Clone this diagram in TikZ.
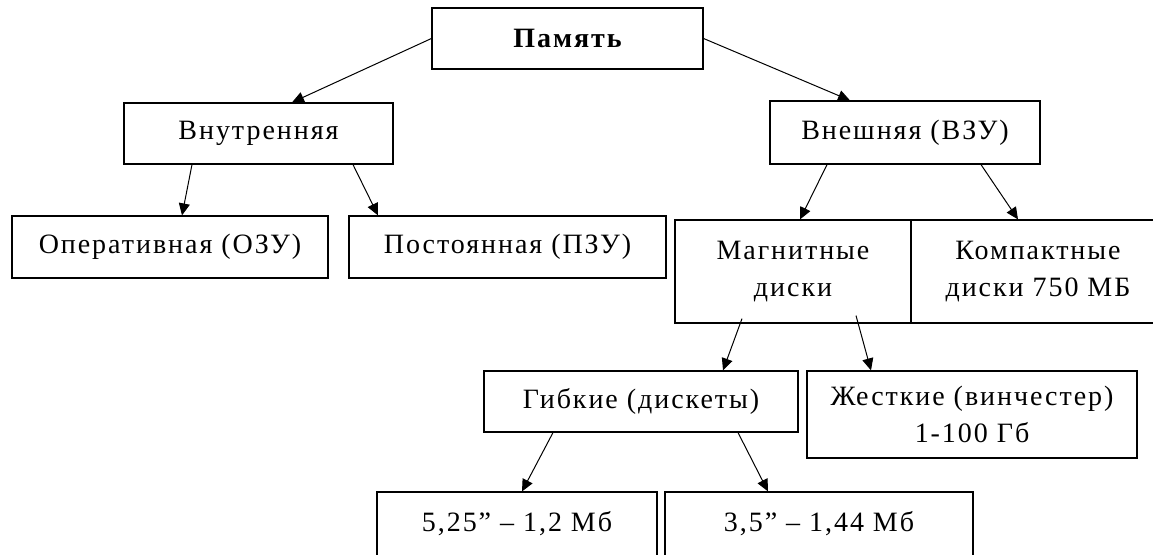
\documentclass[tikz,border=0pt]{standalone}
\usepackage{fontspec}
\setmainfont{Liberation Serif}[LetterSpace=7]
\usetikzlibrary{arrows.meta}

\begin{document}
\begin{tikzpicture}[x=1pt,y=-1pt,>={Triangle[length=12pt,width=11pt]},
  box/.style={draw,line width=1.2pt,inner sep=0pt,align=center,
    font=\fontsize{28}{37}\selectfont},
  link/.style={->,line width=1pt}]
\clip (0,0) rectangle (1153,554);

% Root
\node[box,minimum width=271pt,minimum height=61pt,
  font=\fontsize{28}{37}\selectfont\bfseries] (pam) at (567.5,38.5) {Память};

% Internal and external
\node[box,minimum width=269pt,minimum height=61pt] (vnutr) at (258.5,133.5) {Внутренняя};
\node[box,minimum width=270pt,minimum height=63pt] (vnesh) at (905,132.5) {Внешняя (ВЗУ)};
\draw[link] (pam.west) -- ([xshift=33.5pt]vnutr.north);
\draw[link] (pam.east) -- ([xshift=-55pt]vnesh.north);

% RAM and ROM
\node[box,minimum width=316pt,minimum height=62pt] (oper) at (170,247) {Оперативная (ОЗУ)};
\node[box,minimum width=317pt,minimum height=62pt] (post) at (507.5,247) {Постоянная (ПЗУ)};
\draw[link] ([xshift=-66.5pt]vnutr.south) -- ([xshift=12pt]oper.north);
\draw[link] ([xshift=94.5pt]vnutr.south) -- ([xshift=-129.5pt]post.north);

% Magnetic and compact discs
\node[box,minimum width=236pt,minimum height=103pt] (magn) at (793,271.5) {Магнитные\\диски};
\node[box,minimum width=254pt,minimum height=103pt] (komp) at (1038,271.5) {Компактные\\диски 750 МБ};
\draw[link] ([xshift=-78pt]vnesh.south) -- ([xshift=7pt]magn.north);
\draw[link] ([xshift=76pt]vnesh.south) -- ([xshift=-20pt]komp.north);

% Floppy and hard discs
\node[box,minimum width=314pt,minimum height=61pt] (gib) at (641,401.5) {Гибкие (дискеты)};
\node[box,minimum width=330pt,minimum height=87pt] (zhes) at (972,414.5) {Жесткие (винчестер)\\1-100 Гб};
\draw[link] ([xshift=-51pt,yshift=5pt]magn.south) -- ([xshift=82pt]gib.north);
\draw[link] ([xshift=63pt,yshift=8pt]magn.south) -- ([xshift=-101pt]zhes.north);

% Floppy sizes
\node[box,minimum width=280pt,minimum height=64pt] (d525) at (517,524) {5,25” – 1,2 Мб};
\node[box,minimum width=308pt,minimum height=64pt] (d35) at (819,524) {3,5” – 1,44 Мб};
\draw[link] ([xshift=-88pt]gib.south) -- ([xshift=5pt]d525.north);
\draw[link] ([xshift=97pt]gib.south) -- ([xshift=-51pt]d35.north);
\end{tikzpicture}
\end{document}
